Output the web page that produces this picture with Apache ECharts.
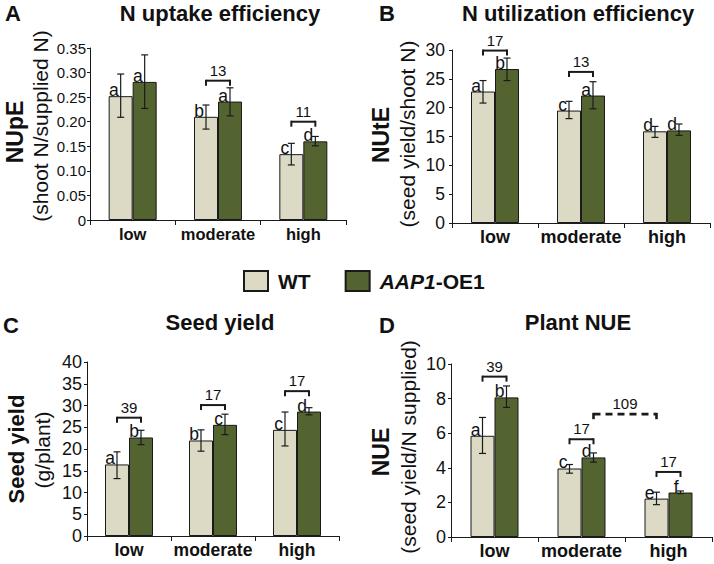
<!DOCTYPE html>
<html><head><meta charset="utf-8">
<script src="https://cdn.jsdelivr.net/npm/echarts@6/dist/echarts.min.js"></script>
<style>html,body{margin:0;padding:0;background:#fff}#c{width:714px;height:564px}</style>
</head><body><div id="c"></div>
<script>
const categories = ['low', 'moderate', 'high'];
const seriesNames = ['WT', 'AAP1-OE1'];

// Panel A: N uptake efficiency
const nupeTicks = [0, 0.35, 0.05];
const nupeWT = [0.252, 0.210, 0.134];
const nupeWTLow = [0.209, 0.185, 0.112];
const nupeWTHigh = [0.297, 0.234, 0.156];
const nupeOE = [0.281, 0.241, 0.160];
const nupeOELow = [0.227, 0.212, 0.151];
const nupeOEHigh = [0.336, 0.269, 0.170];
const nupeWTLetters = ['a', 'b', 'c'];
const nupeOELetters = ['a', 'a', 'd'];
// [fromCat, fromSide, toCat, toSide, y, label, dashed]
const nupeBrackets = [[1, 0, 1, 1, 0.2835, '13', 0], [2, 0, 2, 1, 0.200, '11', 0]];

// Panel B: N utilization efficiency
const nuteTicks = [0, 30, 5];
const nuteWT = [22.8, 19.5, 15.9];
const nuteWTLow = [20.8, 18.1, 14.85];
const nuteWTHigh = [24.7, 21.1, 16.75];
const nuteOE = [26.7, 22.1, 16.06];
const nuteOELow = [24.7, 19.8, 15.2];
const nuteOEHigh = [28.6, 24.5, 17.17];
const nuteWTLetters = ['a', 'c', 'd'];
const nuteOELetters = ['b', 'a', 'd'];
const nuteBrackets = [[0, 0, 0, 1, 29.9, '17', 0], [1, 0, 1, 1, 26.2, '13', 0]];

// Panel C: Seed yield
const yieldTicks = [0, 40, 5];
const yieldWT = [16.45, 21.96, 24.4];
const yieldWTLow = [13.2, 19.5, 20.7];
const yieldWTHigh = [19.35, 24.4, 28.5];
const yieldOE = [22.65, 25.55, 28.6];
const yieldOELow = [21.0, 23.3, 27.85];
const yieldOEHigh = [24.3, 28.0, 29.5];
const yieldWTLetters = ['a', 'b', 'c'];
const yieldOELetters = ['b', 'c', 'd'];
const yieldBrackets = [[0, 0, 0, 1, 27.2, '39', 0], [1, 0, 1, 1, 30.1, '17', 0], [2, 0, 2, 1, 33.3, '17', 0]];

// Panel D: Plant NUE
const nueTicks = [0, 10, 2];
const nueWT = [5.85, 3.96, 2.22];
const nueWTLow = [4.83, 3.69, 1.87];
const nueWTHigh = [6.91, 4.19, 2.59];
const nueOE = [8.07, 4.6, 2.57];
const nueOELow = [7.49, 4.33, 2.51];
const nueOEHigh = [8.73, 4.86, 2.66];
const nueWTLetters = ['a', 'c', 'e'];
const nueOELetters = ['b', 'd', 'f'];
const nueBrackets = [[0, 0, 0, 1, 9.27, '39', 0], [1, 0, 1, 1, 5.65, '17', 0], [2, 0, 2, 1, 3.76, '17', 0], [1, 1, 2, 0, 7.1, '109', 1]];

const FONT = 'Liberation Sans, Arial, Helvetica, sans-serif';
const WT_COLOR = '#dcd9c4';
const OE_COLOR = '#536431';
const INK = '#1a1a1a';
const BAR_W = 24;

const panels = [
  { wt: nupeWT, wtLo: nupeWTLow, wtHi: nupeWTHigh, oe: nupeOE, oeLo: nupeOELow, oeHi: nupeOEHigh,
    wtL: nupeWTLetters, oeL: nupeOELetters, br: nupeBrackets, ticks: nupeTicks,
    grid: { left: 90, top: 48, width: 256, height: 172 }, yfs: 15, ymargin: 4, xfs: 16.5, dec: 2 },
  { wt: nuteWT, wtLo: nuteWTLow, wtHi: nuteWTHigh, oe: nuteOE, oeLo: nuteOELow, oeHi: nuteOEHigh,
    wtL: nuteWTLetters, oeL: nuteOELetters, br: nuteBrackets, ticks: nuteTicks,
    grid: { left: 452, top: 50, width: 258, height: 173 }, yfs: 17.5, ymargin: 7, xfs: 18, dec: 0 },
  { wt: yieldWT, wtLo: yieldWTLow, wtHi: yieldWTHigh, oe: yieldOE, oeLo: yieldOELow, oeHi: yieldOEHigh,
    wtL: yieldWTLetters, oeL: yieldOELetters, br: yieldBrackets, ticks: yieldTicks,
    grid: { left: 87, top: 362, width: 252, height: 174 }, yfs: 18, ymargin: 5, xfs: 17.5, dec: 0 },
  { wt: nueWT, wtLo: nueWTLow, wtHi: nueWTHigh, oe: nueOE, oeLo: nueOELow, oeHi: nueOEHigh,
    wtL: nueWTLetters, oeL: nueOELetters, br: nueBrackets, ticks: nueTicks,
    grid: { left: 451, top: 364, width: 261, height: 173 }, yfs: 18, ymargin: 5, xfs: 18, dec: 0 }
];

const grids = [], xAxes = [], yAxes = [], series = [];

panels.forEach((p, gi) => {
  grids.push(p.grid);
  xAxes.push({
    type: 'category', gridIndex: gi, data: categories,
    axisLine: { lineStyle: { color: INK, width: 1 } },
    axisTick: { show: true, length: 5, lineStyle: { color: INK, width: 1 } },
    axisLabel: { interval: 0, hideOverlap: false, fontSize: p.xfs, fontWeight: 'bold', color: '#111', margin: 5, fontFamily: FONT }
  });
  yAxes.push({
    type: 'value', gridIndex: gi, min: p.ticks[0], max: p.ticks[1], interval: p.ticks[2],
    axisLine: { show: true, lineStyle: { color: INK, width: 1 } },
    axisTick: { show: true, length: 3, lineStyle: { color: INK, width: 1 } },
    splitLine: { show: false },
    axisLabel: {
      fontSize: p.yfs, color: '#111', margin: p.ymargin, fontFamily: FONT,
      formatter: v => (v === 0 ? '0' : v.toFixed(p.dec))
    }
  });
  series.push({
    name: seriesNames[0], type: 'bar', xAxisIndex: gi, yAxisIndex: gi, data: p.wt,
    barWidth: BAR_W, barGap: '0%',
    itemStyle: { color: WT_COLOR, borderColor: INK, borderWidth: 1 }
  });
  series.push({
    name: seriesNames[1], type: 'bar', xAxisIndex: gi, yAxisIndex: gi, data: p.oe,
    barWidth: BAR_W, barGap: '0%',
    itemStyle: { color: OE_COLOR, borderColor: INK, borderWidth: 1 }
  });
  // error bars + letters
  const errData = [];
  const letters = [];
  categories.forEach((c, i) => {
    errData.push([i, 0, p.wtLo[i], p.wtHi[i], p.wt[i]]); letters.push(p.wtL[i]);
    errData.push([i, 1, p.oeLo[i], p.oeHi[i], p.oe[i]]); letters.push(p.oeL[i]);
  });
  series.push({
    type: 'custom', xAxisIndex: gi, yAxisIndex: gi, data: errData, silent: true, z: 5,
    renderItem: (params, api) => {
      const cat = api.value(0), side = api.value(1);
      const lo = api.coord([cat, api.value(2)]);
      const hi = api.coord([cat, api.value(3)]);
      const top = api.coord([cat, api.value(4)]);
      const x = lo[0] + (side === 0 ? -1 : 1) * BAR_W / 2;
      const cap = 3.5;
      const ls = { stroke: INK, lineWidth: 1.2 };
      return {
        type: 'group', children: [
          { type: 'line', shape: { x1: x, y1: lo[1], x2: x, y2: hi[1] }, style: ls },
          { type: 'line', shape: { x1: x - cap, y1: lo[1], x2: x + cap, y2: lo[1] }, style: ls },
          { type: 'line', shape: { x1: x - cap, y1: hi[1], x2: x + cap, y2: hi[1] }, style: ls },
          { type: 'text', style: { text: letters[params.dataIndex], x: x - 2, y: top[1] + 3,
              align: 'right', verticalAlign: 'bottom', fill: '#111', font: '17.5px ' + FONT } }
        ]
      };
    }
  });
  // brackets
  series.push({
    type: 'custom', xAxisIndex: gi, yAxisIndex: gi, silent: true, z: 6,
    data: p.br.map(b => [b[0], b[1], b[2], b[3], b[4], b[6]]),
    renderItem: (params, api) => {
      const b = p.br[params.dataIndex];
      const a = api.coord([api.value(0), api.value(4)]);
      const e = api.coord([api.value(2), api.value(4)]);
      const x1 = a[0] + (api.value(1) === 0 ? -1 : 1) * BAR_W / 2;
      const x2 = e[0] + (api.value(3) === 0 ? -1 : 1) * BAR_W / 2;
      const y = a[1];
      const dashed = api.value(5) === 1;
      const lw = dashed ? 2.6 : 2;
      const solid = { stroke: INK, lineWidth: lw, fill: 'none' };
      const hStyle = { stroke: INK, lineWidth: lw, fill: 'none' };
      if (dashed) hStyle.lineDash = [7, 5];
      return {
        type: 'group', children: [
          { type: 'line', shape: { x1: x1, y1: y, x2: x2, y2: y }, style: hStyle },
          { type: 'line', shape: { x1: x1, y1: y - lw / 2, x2: x1, y2: y + 5 }, style: solid },
          { type: 'line', shape: { x1: x2, y1: y - lw / 2, x2: x2, y2: y + 5 }, style: solid },
          { type: 'text', style: { text: b[5], x: (x1 + x2) / 2, y: y - 3,
              align: 'center', verticalAlign: 'bottom', fill: '#111', font: '15px ' + FONT } }
        ]
      };
    }
  });
});

function txt(text, x, y, font, rot) {
  return { type: 'text', x: x, y: y, rotation: rot || 0, silent: true,
    style: { text: text, font: font + ' ' + FONT, fill: '#111',
      align: 'center', verticalAlign: 'middle', textAlign: 'center', textVerticalAlign: 'middle' } };
}
const R = Math.PI / 2;
const graphics = [
  txt('A', 13, 13, 'bold 22px'),
  txt('B', 387, 13, 'bold 22px'),
  txt('C', 11, 325, 'bold 22px'),
  txt('D', 387, 325, 'bold 22px'),
  txt('N uptake efficiency', 220, 13, 'bold 22px'),
  txt('N utilization efficiency', 578, 13, 'bold 22px'),
  txt('Seed yield', 220, 322, 'bold 22px'),
  txt('Plant NUE', 578, 322, 'bold 22px'),
  txt('NUpE', 15, 132, 'bold 23px', R),
  txt('(shoot N/supplied N)', 40, 126, '21px', R),
  txt('NUtE', 381, 135, 'bold 23px', R),
  txt('(seed yield/shoot N)', 407, 134, '21px', R),
  txt('Seed yield', 16, 449, 'bold 22px', R),
  txt('(g/plant)', 42, 450, '21px', R),
  txt('NUE', 381, 452, 'bold 23px', R),
  txt('(seed yield/N supplied)', 408, 447, '21px', R)
];

const chart = echarts.init(document.getElementById('c'), null, { renderer: 'svg' });
chart.setOption({
  animation: false,
  backgroundColor: '#fff',
  grid: grids, xAxis: xAxes, yAxis: yAxes, series: series,
  legend: {
    data: seriesNames, left: 238, top: 265, icon: 'rect',
    itemWidth: 24, itemHeight: 20, itemGap: 34, selectedMode: false,
    formatter: n => (n === 'WT' ? '{n|WT}' : '{i|AAP1}{n|-OE1}'),
    textStyle: {
      padding: [0, 0, 0, 5],
      rich: {
        n: { fontSize: 21, fontWeight: 'bold', color: '#111', fontFamily: FONT },
        i: { fontSize: 21, fontWeight: 'bold', fontStyle: 'italic', color: '#111', fontFamily: FONT }
      }
    }
  },
  graphic: graphics
});
</script></body></html>
